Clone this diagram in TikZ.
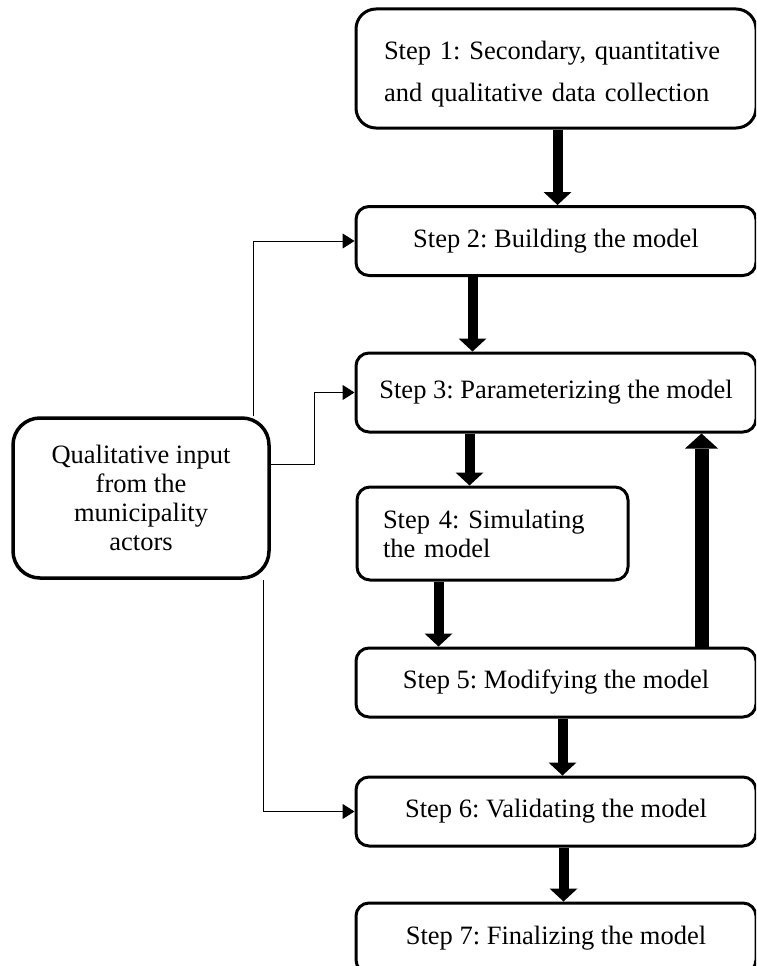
\documentclass[tikz,border=0pt]{standalone}
\usepackage{fontspec}
\setmainfont{Liberation Serif}
\usetikzlibrary{arrows.meta}
\frenchspacing

\begin{document}
\begin{tikzpicture}[x=1pt, y=-1pt,
	every block/.style={draw, line width=3pt, rounded corners=13pt, inner sep=0pt,
		font=\fontsize{26.5}{29}\selectfont},
	block wide/.style={minimum width=400pt, minimum height=69pt},
	fat/.style={line width=10pt, -{Triangle[width=28pt, length=13pt, line width=0pt]}},
	fatter/.style={line width=14pt, -{Triangle[width=33pt, length=15pt, line width=0pt]}},
	feed/.style={line width=1pt, -{Triangle[width=15pt, length=12pt]}}]

		\path [use as bounding box, clip] (0,0) rectangle (756,966);

		% Steps
		\node [every block, block wide, minimum height=119pt, rounded corners=20pt,
			align=left, text width=344pt, font=\fontsize{26.5}{42}\selectfont] (s1) at (556,68.5) {
			\strut Step 1: Secondary, quantitative\\
			and qualitative data collection
		};
		\node [every block, block wide] (s2) at (556,241) {
			Step 2: Building the model
		};
		\node [every block, block wide, minimum height=79pt] (s3) at (556,392.5) {
			Step 3: Parameterizing the model
		};
		\node [every block, minimum width=271pt, minimum height=93pt,
			align=left, text width=219pt] (s4) at (492.5,533.5) {
			Step 4: Simulating\\
			the model
		};
		\node [every block, block wide] (s5) at (556,682.5) {
			Step 5: Modifying the model
		};
		\node [every block, block wide] (s6) at (556,811.5) {
			Step 6: Validating the model
		};
		\node [every block, block wide, minimum height=70pt] (s7) at (556,938) {
			Step 7: Finalizing the model
		};

		% Municipality input
		\node [every block, line width=3.5pt, rounded corners=27pt, minimum width=256pt,
			minimum height=160pt, align=center] (q) at (141,498) {
			Qualitative input\\
			from the\\
			municipality\\
			actors
		};

		% Main flow
		\draw [fat] ([xshift=203pt]s1.south west) -- ([xshift=203pt]s1.south west |- s2.north);
		\draw [fat] ([xshift=118pt]s2.south west) -- ([xshift=118pt]s2.south west |- s3.north);
		\draw [fat] ([xshift=115pt]s3.south west) -- ([xshift=115pt]s3.south west |- s4.north);
		\draw [fat] ([xshift=83pt]s4.south west) -- ([xshift=83pt]s4.south west |- s5.north);
		\draw [fat] ([xshift=208pt]s5.south west) -- ([xshift=208pt]s5.south west |- s6.north);
		\draw [fat] ([xshift=209pt]s6.south west) -- ([xshift=209pt]s6.south west |- s7.north);

		% Loop back
		\draw [fatter] ([xshift=347pt]s5.north west) -- ([xshift=347pt]s5.north west |- s3.south);

		% Input arrows
		\draw [feed] ([xshift=-17pt]q.north east) |- (s2.west);
		\draw [feed] ([yshift=34pt]q.east) -- ++(44,0) |- (s3.west);
		\draw [feed] ([xshift=-7pt]q.south east) |- (s6.west);

	\end{tikzpicture}
\end{document}
